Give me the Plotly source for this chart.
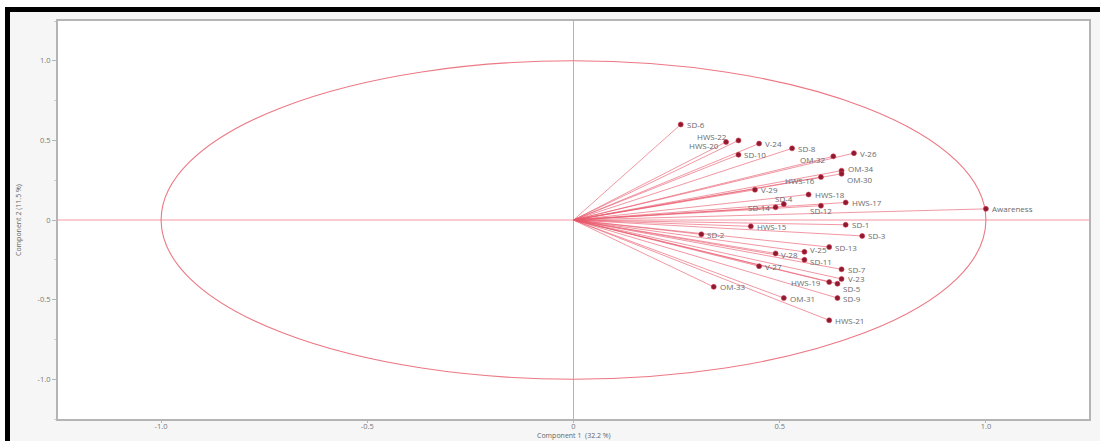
import plotly.graph_objects as go

# Variable loadings on the first two principal components
variables = [
    "SD-6", "HWS-22", "HWS-20", "V-24", "SD-8", "SD-10", "OM-32", "V-26",
    "OM-34", "OM-30", "HWS-16", "V-29", "HWS-18", "HWS-17", "SD-4", "SD-14",
    "SD-12", "Awareness", "SD-1", "HWS-15", "SD-2", "SD-3", "SD-13", "V-25",
    "V-28", "SD-11", "V-27", "SD-7", "V-23", "HWS-19", "SD-5", "OM-33",
    "OM-31", "SD-9", "HWS-21",
]
comp1 = [
    0.26, 0.40, 0.37, 0.45, 0.53, 0.40, 0.63, 0.68,
    0.65, 0.65, 0.60, 0.44, 0.57, 0.66, 0.51, 0.49,
    0.60, 1.00, 0.66, 0.43, 0.31, 0.70, 0.62, 0.56,
    0.49, 0.56, 0.45, 0.65, 0.65, 0.62, 0.64, 0.34,
    0.51, 0.64, 0.62,
]
comp2 = [
    0.60, 0.50, 0.49, 0.48, 0.45, 0.41, 0.40, 0.42,
    0.31, 0.29, 0.27, 0.19, 0.16, 0.11, 0.10, 0.08,
    0.09, 0.07, -0.03, -0.04, -0.09, -0.10, -0.17, -0.20,
    -0.21, -0.25, -0.29, -0.31, -0.37, -0.39, -0.40, -0.42,
    -0.49, -0.49, -0.63,
]

axis_x_title = "Component 1  (32.2 %)"
axis_y_title = "Component 2 (11.5 %)"
ticks = [-1.0, -0.5, 0, 0.5, 1.0]
tick_text = ["-1.0", "-0.5", "0", "0.5", "1.0"]

# label placement: (anchor, x shift px, y shift px); default is to the right
label_place = {
    "HWS-22": ("right", -9, 4),
    "HWS-20": ("right", -5, -4),
    "OM-32": ("right", -5, -3),
    "OM-34": ("left", 4, 2),
    "OM-30": ("left", 3, -6),
    "HWS-16": ("right", -4, -3),
    "SD-4": ("center", 0, 6),
    "SD-14": ("right", -4, 0),
    "SD-12": ("center", 0, -5),
    "V-25": ("left", 4, 2),
    "SD-11": ("left", 4, -2),
    "HWS-19": ("right", -6, 0),
    "SD-5": ("left", 4, -5),
    "V-28": ("left", 3, -1),
}

RAY = "rgba(232,90,108,0.7)"
MARK = "#8e1a2f"
CIRCLE = "rgb(236,120,132)"
CROSS = "rgb(244,150,162)"
LABEL_FONT = dict(family="Open Sans, sans-serif", size=8, color="#6a6a6a")

fig = go.Figure()

# rays from the origin to each loading
ray_x, ray_y = [], []
for a, b in zip(comp1, comp2):
    ray_x += [0, a, None]
    ray_y += [0, b, None]
fig.add_trace(go.Scatter(
    x=ray_x, y=ray_y, mode="lines",
    line=dict(color=RAY, width=0.9), hoverinfo="skip", showlegend=False,
))

# loading points
fig.add_trace(go.Scatter(
    x=comp1, y=comp2, mode="markers", text=variables,
    marker=dict(size=5, color=MARK, line=dict(color="#d2384f", width=0.6)),
    showlegend=False,
))

annotations = []
for name, a, b in zip(variables, comp1, comp2):
    anchor, dx, dy = label_place.get(name, ("left", 4, 0))
    annotations.append(dict(
        text=name, x=a, y=b, xref="x", yref="y", showarrow=False,
        xanchor=anchor, yanchor="middle", xshift=dx, yshift=dy,
        font=LABEL_FONT,
    ))

shapes = [
    # unit correlation circle
    dict(type="circle", xref="x", yref="y", x0=-1, y0=-1, x1=1, y1=1,
         line=dict(color=CIRCLE, width=1.1), layer="below"),
    # crosshair through the origin
    dict(type="line", xref="x", yref="paper", x0=0, x1=0, y0=0, y1=1,
         line=dict(color=CROSS, width=1), layer="below"),
    dict(type="line", xref="paper", yref="y", x0=0, x1=1, y0=0, y1=0,
         line=dict(color=CROSS, width=1), layer="below"),
]

# outer frame of the figure (pixel positions mapped to paper units)
PW, PH = 1031.0, 398.0
L, B = 58.0, 419.0


def px_x(p):
    return (p - L) / PW


def px_y(p):
    return (B - p) / PH


shapes += [
    dict(type="rect", xref="paper", yref="paper",
         x0=px_x(0), x1=px_x(1100), y0=px_y(0), y1=px_y(7),
         fillcolor="white", line=dict(width=0), layer="below"),
    dict(type="rect", xref="paper", yref="paper",
         x0=px_x(0), x1=px_x(5), y0=px_y(0), y1=px_y(441),
         fillcolor="white", line=dict(width=0), layer="below"),
    dict(type="rect", xref="paper", yref="paper",
         x0=px_x(5), x1=px_x(1100), y0=px_y(7), y1=px_y(12),
         fillcolor="black", line=dict(width=0)),
    dict(type="rect", xref="paper", yref="paper",
         x0=px_x(5), x1=px_x(10), y0=px_y(7), y1=px_y(441),
         fillcolor="black", line=dict(width=0)),
]

annotations += [
    dict(text=axis_x_title, xref="x", yref="paper", x=0, y=px_y(435),
         showarrow=False, xanchor="center", yanchor="middle",
         font=dict(family="Open Sans, sans-serif", size=7, color="#666")),
    dict(text=axis_y_title, xref="paper", yref="y", x=px_x(18), y=0,
         showarrow=False, textangle=-90, xanchor="center", yanchor="middle",
         font=dict(family="Liberation Sans Narrow, Open Sans, sans-serif", size=7, color="#666")),
]

axis_common = dict(
    range=[-1.25, 1.25], showgrid=False, zeroline=False, automargin=False,
    showline=True, linecolor="#b4b4b4", linewidth=2, mirror=True,
    tickvals=ticks, ticktext=tick_text, tickcolor="#b4b4b4",
    tickfont=dict(family="Open Sans, sans-serif", size=7.5, color="#777"),
)

fig.update_layout(
    width=1100, height=441,
    margin=dict(l=58, r=11, t=21, b=22),
    paper_bgcolor="#f6f6f6", plot_bgcolor="white",
    xaxis=dict(**axis_common, ticks="outside", ticklen=2, ticklabelstandoff=-3),
    yaxis=dict(**axis_common, ticks="outside", ticklen=4,
               minor=dict(dtick=0.25, ticks="outside", ticklen=2, tickcolor="#cccccc")),
    shapes=shapes, annotations=annotations,
    showlegend=False,
)

fig.write_html("out.html")
